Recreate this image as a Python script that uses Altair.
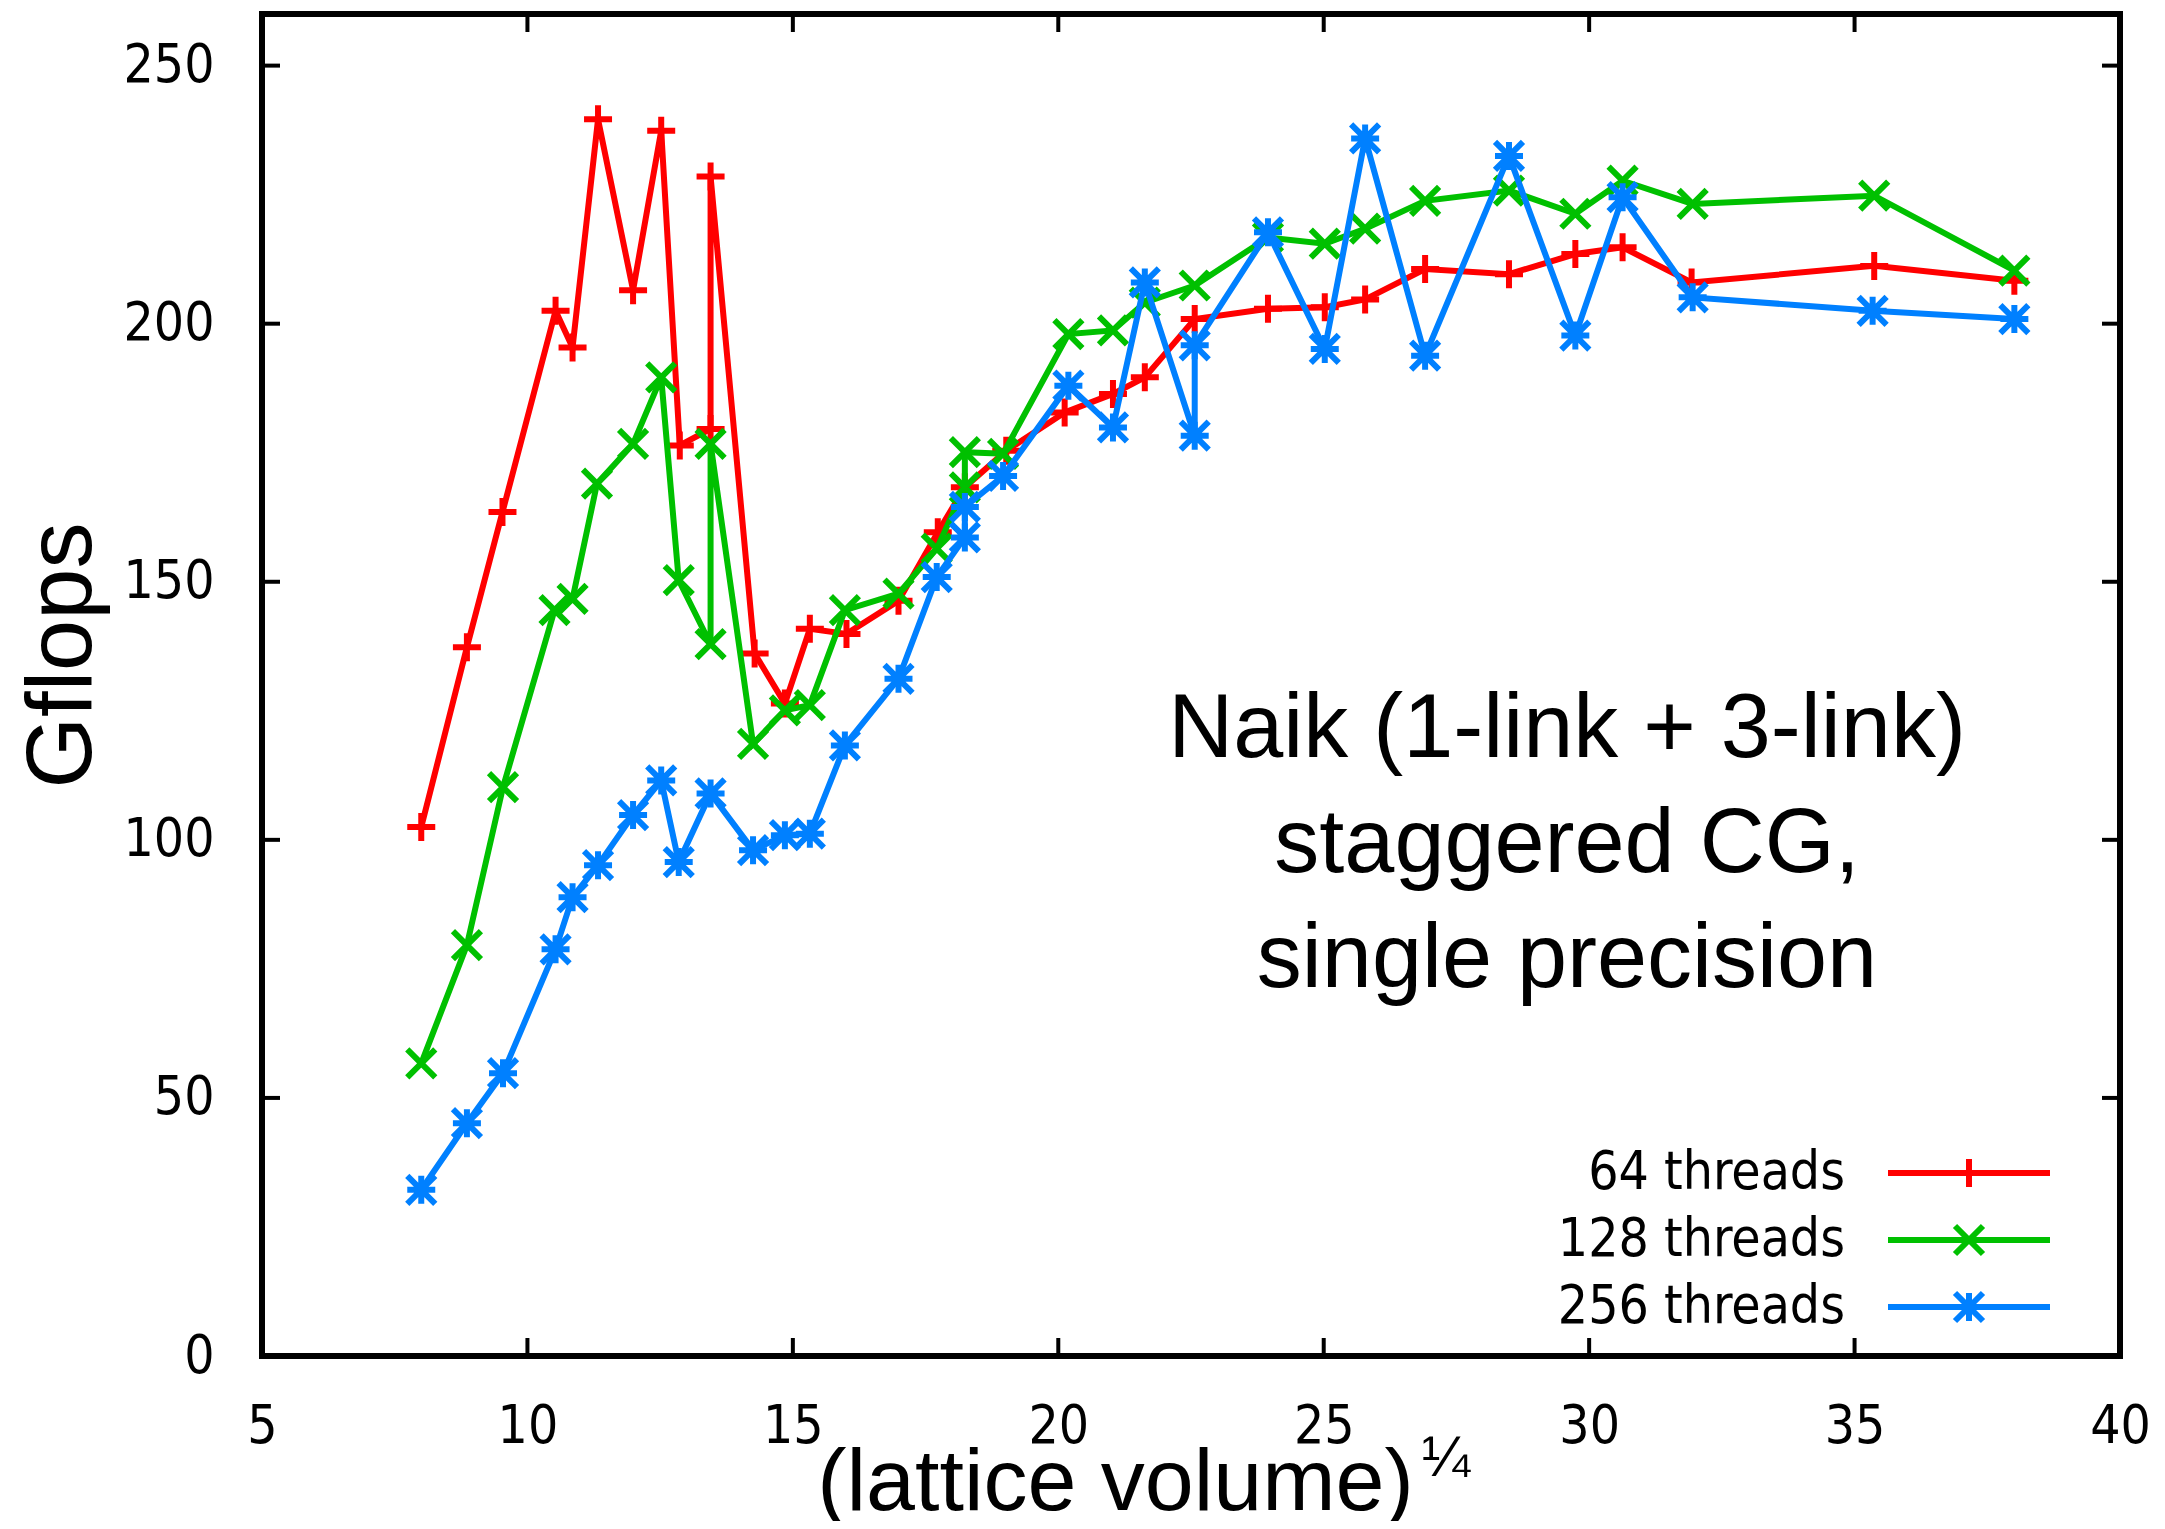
import altair as alt
import pandas as pd

# ---------------- data ----------------
series_names = ["64 threads", "128 threads", "256 threads"]
series_colors = ["#ff0000", "#00c000", "#0080ff"]

x_64 = [8.0, 8.86, 9.53, 10.53, 10.85, 11.33, 11.99, 12.52, 12.87, 13.45, 13.45,
        14.28, 14.85, 15.32, 16.01, 16.99, 17.73, 18.24, 19.02, 20.12, 21.03, 21.63,
        22.57, 23.95, 25.02, 25.78, 26.91, 28.49, 29.74, 30.63, 31.93, 35.37, 38.01]
y_64 = [102.5, 137.3, 163.5, 202.5, 195.4, 239.6, 206.5, 237.4, 176.4, 179.6, 228.5,
        136.1, 126.4, 140.9, 139.9, 146.3, 159.6, 168.3, 175.4, 182.8, 186.4, 189.6,
        200.9, 202.9, 203.2, 204.7, 210.6, 209.6, 213.5, 214.8, 208.0, 211.2, 208.3]

x_128 = [8.0, 8.86, 9.54, 10.51, 10.85, 11.31, 11.99, 12.52, 12.85, 13.45, 13.45,
         14.25, 14.85, 15.32, 15.98, 16.99, 17.71, 18.24, 18.24, 18.96, 20.19, 21.03,
         21.63, 22.57, 23.95, 25.02, 25.78, 26.91, 28.49, 29.74, 30.63, 31.95, 35.37, 38.01]
y_128 = [56.7, 79.6, 110.2, 144.5, 146.7, 169.0, 176.7, 189.6, 150.3, 137.9, 176.7,
         118.6, 125.1, 126.1, 144.5, 147.7, 156.4, 168.3, 175.1, 174.8, 198.0, 198.7,
         204.1, 207.4, 216.7, 215.5, 218.4, 223.8, 225.8, 221.3, 227.7, 223.2, 224.8, 210.3]

x_256 = [8.0, 8.86, 9.54, 10.53, 10.85, 11.33, 11.99, 12.52, 12.85, 13.45, 14.25,
         14.85, 15.32, 15.98, 16.99, 17.71, 18.24, 18.24, 18.96, 20.19, 21.03, 21.63,
         22.57, 22.57, 23.95, 25.02, 25.78, 26.91, 28.49, 29.74, 30.63, 31.95, 35.34, 38.01]
y_256 = [32.2, 45.1, 54.8, 78.8, 88.9, 95.1, 104.8, 111.5, 95.7, 109.0, 98.0,
         100.9, 101.2, 118.3, 131.2, 150.9, 158.6, 164.5, 170.5, 188.0, 179.9, 208.0,
         178.3, 195.8, 217.7, 195.1, 235.9, 193.8, 232.5, 197.7, 224.5, 205.1, 202.5, 200.9]

x_ticks = [5, 10, 15, 20, 25, 30, 35, 40]
y_ticks = [0, 50, 100, 150, 200, 250]

annotation = "Naik (1-link + 3-link)\nstaggered CG,\nsingle precision"
x_title = "(lattice volume)"
x_title_sup = "\u00bc"
y_title = "Gflops"

# ---------------- styling ----------------
W, H = 1858, 1342
TICK_FONT = "DejaVu Sans Condensed, DejaVu Sans"
TEXT_FONT = "Liberation Sans"
PLUS = "M-1,0L1,0M0,-1L0,1"
CROSS = "M-1,-1L1,1M-1,1L1,-1"
STAR = PLUS + CROSS
shapes = [PLUS, CROSS, STAR]
LW = 6
MSIZE = 784

xscale = alt.Scale(domain=[5, 40], nice=False, zero=False)
yscale = alt.Scale(domain=[0, 260], nice=False, zero=False)

xaxis = alt.Axis(
    values=x_ticks, grid=False, domain=False, ticks=False, tickSize=0,
    labelFont=TICK_FONT, labelFontSize=53, labelColor="black", labelPadding=44,
    labelFlush=False,
    title=x_title, titleFont=TEXT_FONT, titleFontSize=88, titleFontWeight="normal",
    titleColor="black", titleX=853, titleY=153, titleAlign="center",
    titleBaseline="alphabetic")
yaxis = alt.Axis(
    values=y_ticks, grid=False, domain=False, ticks=False, tickSize=0,
    labelFont=TICK_FONT, labelFontSize=53, labelColor="black", labelPadding=48,
    labelFlush=False,
    title=y_title, titleFont=TEXT_FONT, titleFontSize=92, titleFontWeight="normal",
    titleColor="black", titleX=-200, titleY=641, titleAngle=270,
    titleAlign="center", titleBaseline="middle")


def X(field):
    return alt.X(field, scale=xscale, axis=xaxis, title=x_title)


def Y(field):
    return alt.Y(field, scale=yscale, axis=yaxis, title=y_title)


series_data = [(x_64, y_64), (x_128, y_128), (x_256, y_256)]

layers = []

# inward tick marks on all four sides
xt = pd.DataFrame({"x": x_ticks})
yt = pd.DataFrame({"y": y_ticks})
TL = 18
layers.append(alt.Chart(xt).mark_rule(color="black", strokeWidth=4).encode(
    x=X("x:Q"), y=alt.value(H), y2=alt.value(H - TL)))
layers.append(alt.Chart(xt).mark_rule(color="black", strokeWidth=4).encode(
    x=X("x:Q"), y=alt.value(0), y2=alt.value(TL)))
layers.append(alt.Chart(yt).mark_rule(color="black", strokeWidth=4).encode(
    y=Y("y:Q"), x=alt.value(0), x2=alt.value(TL)))
layers.append(alt.Chart(yt).mark_rule(color="black", strokeWidth=4).encode(
    y=Y("y:Q"), x=alt.value(W), x2=alt.value(W - TL)))

# data series: line then points, series by series
for name, color, shape, (xs, ys) in zip(series_names, series_colors, shapes, series_data):
    df = pd.DataFrame({"x": xs, "y": ys, "idx": list(range(len(xs)))})
    base = alt.Chart(df)
    layers.append(base.mark_line(color=color, strokeWidth=LW).encode(
        x=X("x:Q"), y=Y("y:Q"), order=alt.Order("idx:Q")))
    layers.append(base.mark_point(shape=shape, filled=False, size=MSIZE, strokeWidth=LW,
                                  color=color, opacity=1).encode(
        x=X("x:Q"), y=Y("y:Q")))

# superscript 1/4 of the x title
layers.append(alt.Chart(pd.DataFrame({"t": [x_title_sup]})).mark_text(
    font=TEXT_FONT, fontSize=58, color="black", align="center", baseline="alphabetic").encode(
    text="t:N", x=alt.value(1184), y=alt.value(1462)))

# annotation
layers.append(alt.Chart(pd.DataFrame({"t": [annotation]})).mark_text(
    font=TEXT_FONT, fontSize=90, color="black", align="center", baseline="alphabetic",
    lineBreak="\n", lineHeight=115).encode(
    text="t:N", x=alt.value(1305), y=alt.value(743)))

# key (gnuplot style: label, then line sample with marker)
leg_y = [1159, 1226, 1293]
for name, color, shape, ly in zip(series_names, series_colors, shapes, leg_y):
    ldf = pd.DataFrame({"t": [name]})
    layers.append(alt.Chart(ldf).mark_text(
        font=TICK_FONT, fontSize=53, color="black", align="right", baseline="middle").encode(
        text="t:N", x=alt.value(1583), y=alt.value(ly)))
    layers.append(alt.Chart(ldf).mark_rule(color=color, strokeWidth=LW).encode(
        x=alt.value(1626), x2=alt.value(1788), y=alt.value(ly)))
    layers.append(alt.Chart(ldf).mark_point(shape=shape, filled=False, size=MSIZE,
                                            strokeWidth=LW, color=color, opacity=1).encode(
        x=alt.value(1707), y=alt.value(ly)))

chart = alt.layer(*layers).properties(
    width=W, height=H,
    autosize=alt.AutoSizeParams(type="none"),
    padding={"left": 254, "top": 6, "right": 37, "bottom": 165},
    background="white",
).configure_view(stroke="black", strokeWidth=6)

chart.save("out.html", embed_options={"renderer": "svg", "actions": False})
